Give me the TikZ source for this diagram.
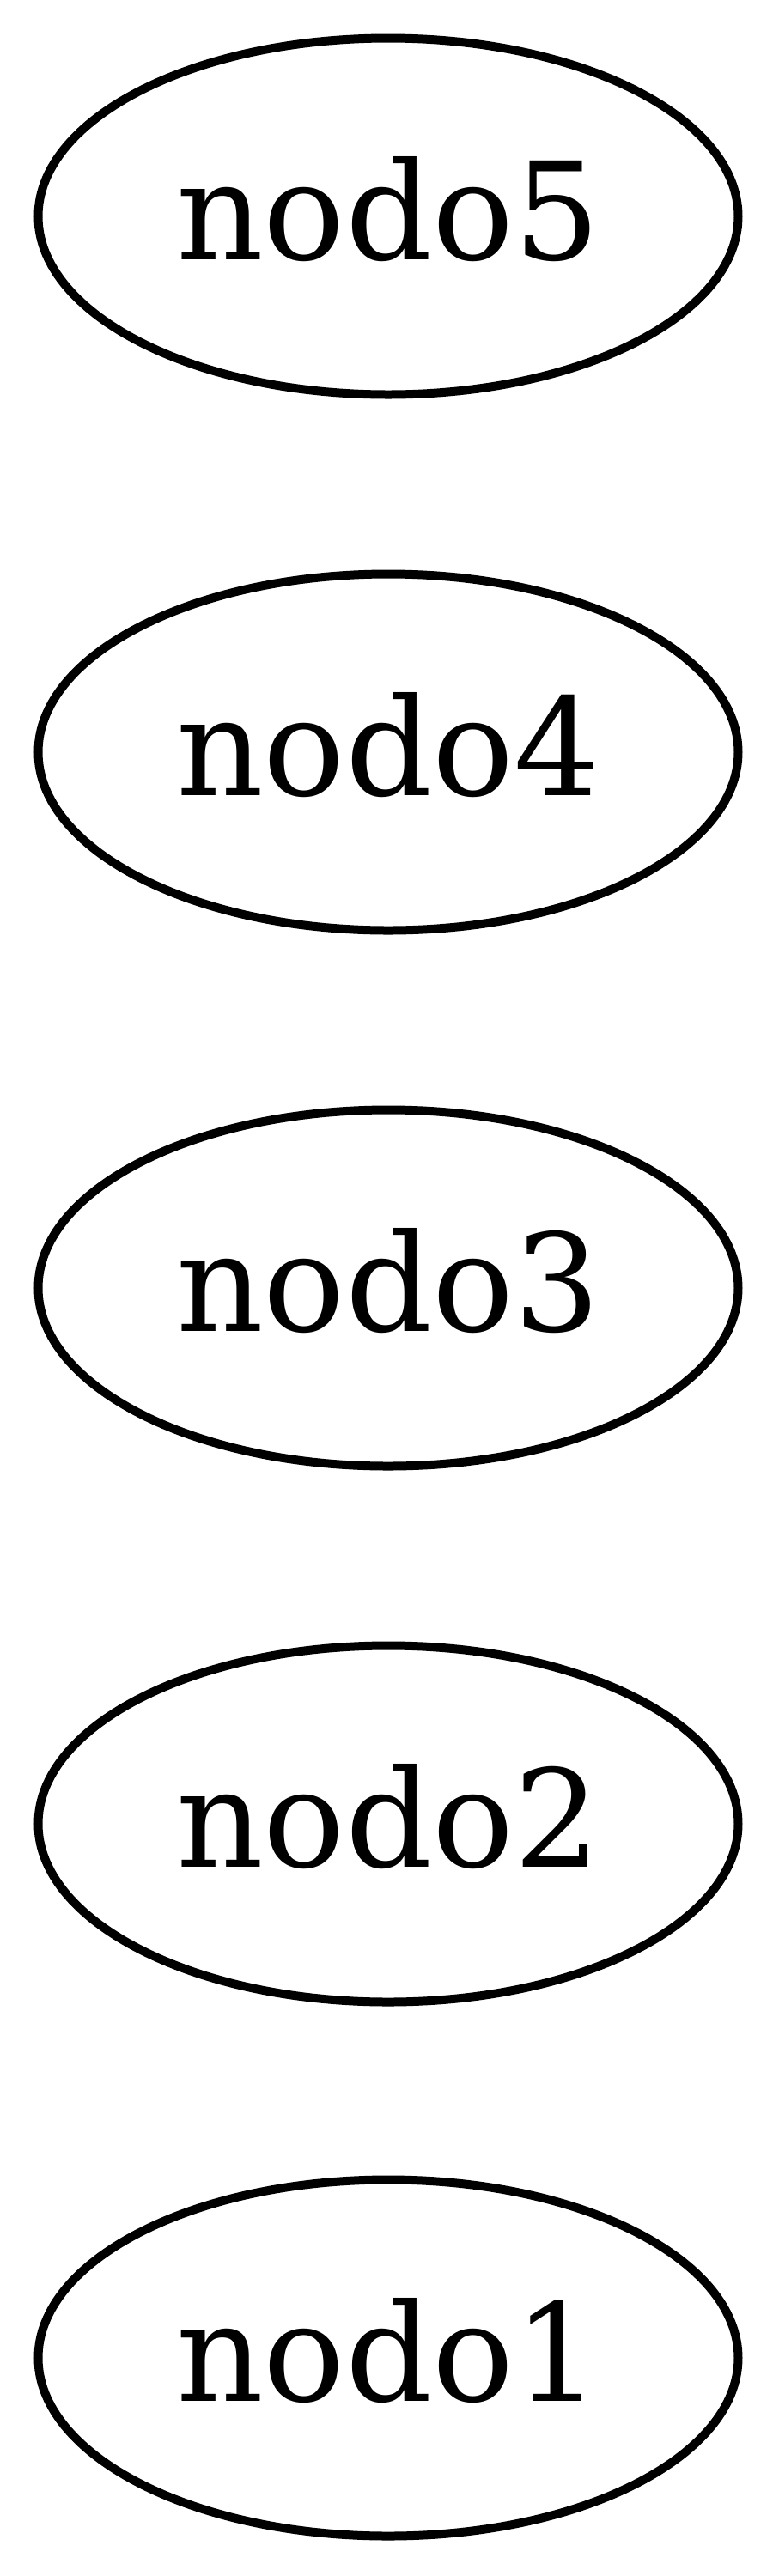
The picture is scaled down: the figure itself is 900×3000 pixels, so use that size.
\documentclass[tikz,border=0pt]{standalone}
\usepackage{fontspec}
\setmainfont{DejaVu Serif}
\usetikzlibrary{shapes.geometric}
\begin{document}
\begin{tikzpicture}[x=0.25pt,y=-0.25pt,
  oval/.style={ellipse,draw=black,line width=2.5pt,minimum width=203.75pt,minimum height=103.75pt,inner sep=0pt},
  lbl/.style={anchor=base,inner sep=0pt,font=\fontsize{39.5}{45}\selectfont}]
\useasboundingbox (0,0) rectangle (900,3000);
\node[oval] (n5) at (452,252) {};
\node[oval] (n4) at (452,876) {};
\node[oval] (n3) at (452,1500) {};
\node[oval] (n2) at (452,2124) {};
\node[oval] (n1) at (452,2746) {};
\foreach \n in {1,...,5}{
  \node[lbl] (t\n) at ([yshift=-12.5pt]n\n.center) {nodo\n};
}
\end{tikzpicture}
\end{document}
